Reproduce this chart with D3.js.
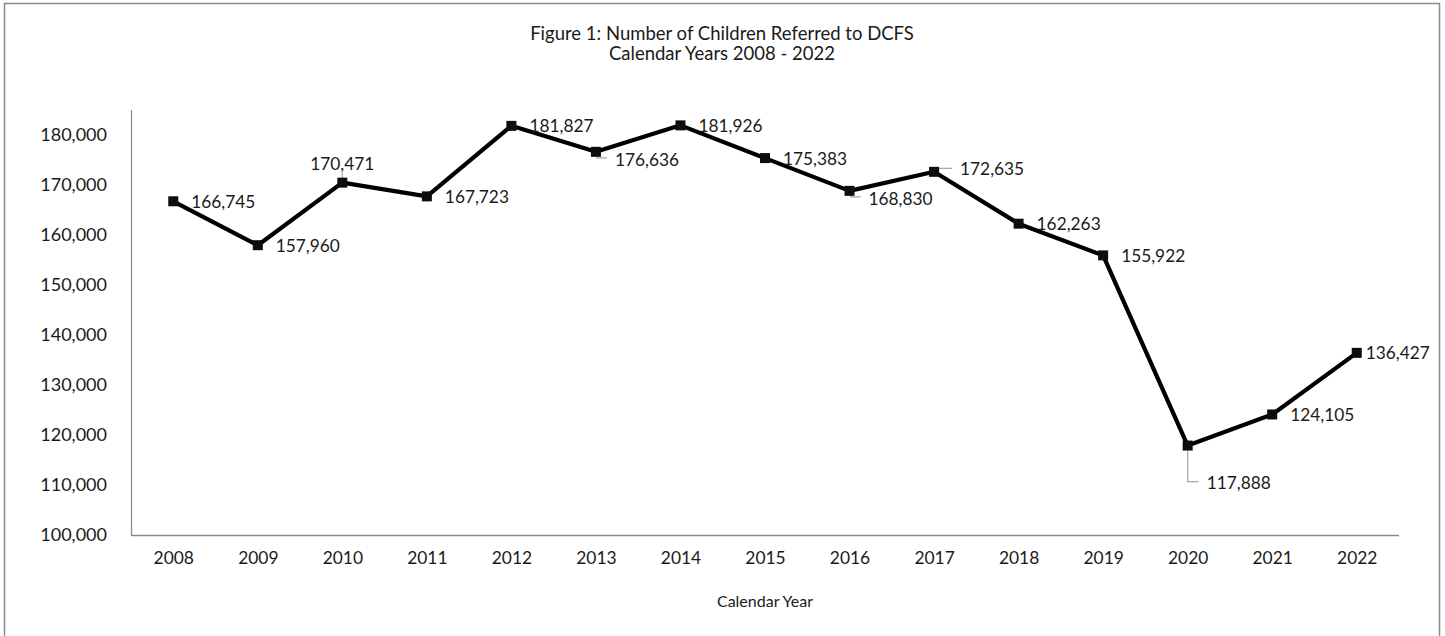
<!DOCTYPE html>
<html>
<head>
<meta charset="utf-8">
<script src="https://cdn.jsdelivr.net/npm/d3@7/dist/d3.min.js"></script>
<style>
  html, body { margin: 0; padding: 0; background: #fff; }
  svg { display: block; }
  text { font-family: Lato, "Liberation Sans", sans-serif; fill: #1a1a1a; }
</style>
</head>
<body>
<svg id="chart" width="1445" height="636"></svg>
<script>
// Children referred to DCFS, calendar years 2008-2022
const years = ["2008","2009","2010","2011","2012","2013","2014","2015","2016","2017","2018","2019","2020","2021","2022"];
const referrals = [166745, 157960, 170471, 167723, 181827, 176636, 181926, 175383, 168830, 172635, 162263, 155922, 117888, 124105, 136427];
const yTicks = [100000, 110000, 120000, 130000, 140000, 150000, 160000, 170000, 180000];
const titleLines = ["Figure 1: Number of Children Referred to DCFS", "Calendar Years 2008 - 2022"];
const xTitle = "Calendar Year";

// where each value label sits relative to its marker
const labelPlacement = ["right","right","above","right","right","leaderDown","right","right","leaderDown","leaderUp","right","right","leaderLong","right","tight"];

const plot = { left: 131, right: 1399, top: 110, bottom: 535 };

const svg = d3.select("#chart");

// outer frame
svg.append("rect")
  .attr("x", 4.5).attr("y", 3.5)
  .attr("width", 1435).attr("height", 700)
  .attr("fill", "none").attr("stroke", "#8c8c8c").attr("stroke-width", 1.5);

const x = d3.scalePoint().domain(years).range([plot.left, plot.right]).padding(0.5);
const y = d3.scaleLinear().domain([100000, 185000]).range([plot.bottom, plot.top]);
const fmt = d3.format(",");

// title
svg.append("g").selectAll("text").data(titleLines).join("text")
  .attr("x", 722)
  .attr("y", (d, i) => 33 + i * 20)
  .attr("text-anchor", "middle")
  .attr("dominant-baseline", "central")
  .style("font-size", "18.5px")
  .text(d => d);

// y axis
const yAxis = svg.append("g")
  .attr("transform", `translate(${plot.left},0)`)
  .call(d3.axisLeft(y).tickValues(yTicks).tickFormat(fmt).tickSize(0).tickPadding(24));
yAxis.select(".domain").attr("stroke", "#8a8a8a").attr("stroke-width", 1.3)
  .attr("d", `M0.5,${plot.top}V${plot.bottom}`);
yAxis.selectAll("text").style("font-size", "18px").attr("fill", "#1a1a1a")
  .attr("font-family", null);

// x axis
const xAxis = svg.append("g")
  .attr("transform", `translate(0,${plot.bottom})`)
  .call(d3.axisBottom(x).tickSize(0).tickPadding(17));
xAxis.select(".domain").attr("stroke", "#8a8a8a").attr("stroke-width", 1.3)
  .attr("d", `M${plot.left},0.5H${plot.right}`);
xAxis.selectAll("text").style("font-size", "17.4px").attr("fill", "#1a1a1a")
  .attr("font-family", null);

svg.append("text")
  .attr("x", (plot.left + plot.right) / 2)
  .attr("y", 600)
  .attr("text-anchor", "middle")
  .attr("dominant-baseline", "central")
  .style("font-size", "16px")
  .text(xTitle);

const pts = years.map((yr, i) => ({ yr, v: referrals[i], p: labelPlacement[i], cx: x(yr), cy: y(referrals[i]) }));

// leader lines for labels pushed away from their marker
const leaders = svg.append("g").attr("fill", "none").attr("stroke", "#a6a6a6").attr("stroke-width", 1.2);
pts.forEach(d => {
  let path = null;
  if (d.p === "above") path = `M${d.cx},${d.cy - 5}V${d.cy - 10}`;
  if (d.p === "leaderDown") path = `M${d.cx + 1},${d.cy}V${d.cy + 6}H${d.cx + 11}`;
  if (d.p === "leaderUp") path = `M${d.cx},${d.cy}L${d.cx + 6},${d.cy - 3.5}H${d.cx + 18}`;
  if (d.p === "leaderLong") path = `M${d.cx},${d.cy}V${d.cy + 36}H${d.cx + 11}`;
  if (path) leaders.append("path").attr("d", path);
});

// series line
svg.append("path")
  .datum(pts)
  .attr("fill", "none")
  .attr("stroke", "#000")
  .attr("stroke-width", 4.2)
  .attr("stroke-linejoin", "round")
  .attr("d", d3.line().x(d => d.cx).y(d => d.cy));

// square markers
const ms = 10;
svg.append("g").selectAll("rect").data(pts).join("rect")
  .attr("x", d => d.cx - ms / 2)
  .attr("y", d => d.cy - ms / 2)
  .attr("width", ms).attr("height", ms)
  .attr("fill", "#0d0d0d");

// value labels
const offsets = {
  right: [18, 0, "start"],
  above: [0, -19, "middle"],
  leaderDown: [19, 8, "start"],
  leaderUp: [26, -3, "start"],
  leaderLong: [19, 37, "start"],
  tight: [9, 0, "start"]
};
svg.append("g").selectAll("text").data(pts).join("text")
  .attr("x", d => d.cx + offsets[d.p][0])
  .attr("y", d => d.cy + offsets[d.p][1])
  .attr("text-anchor", d => offsets[d.p][2])
  .attr("dominant-baseline", "central")
  .style("font-size", "17.3px")
  .text(d => fmt(d.v));
</script>
</body>
</html>
